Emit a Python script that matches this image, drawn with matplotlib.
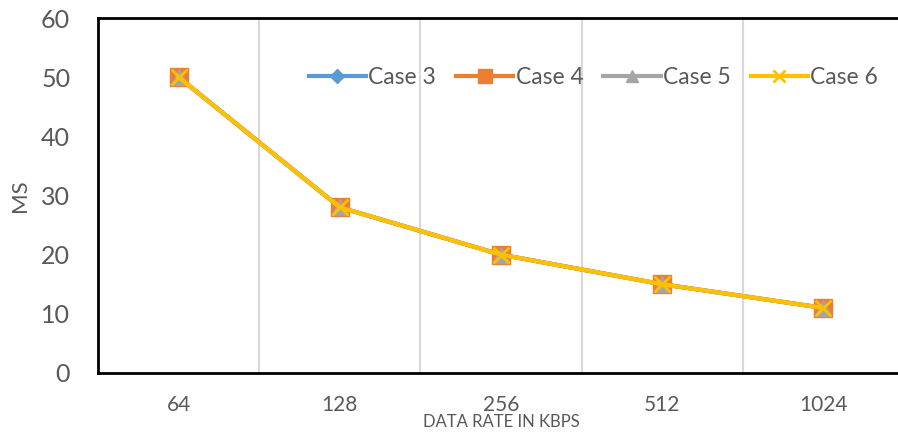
import matplotlib
matplotlib.use('Agg')
import matplotlib.pyplot as plt

rates = ['64', '128', '256', '512', '1024']
case3 = [50, 28, 20, 15, 11]
case4 = [50, 28, 20, 15, 11]
case5 = [50, 28, 20, 15, 11]
case6 = [50, 28, 20, 15, 11]

plt.rcParams['font.family'] = ['Lato', 'DejaVu Sans']

fig = plt.figure(figsize=(8.98, 4.33), dpi=100)
ax = fig.add_axes([98/898, 1 - 373/433, 806/898, 355/433])

x = range(len(rates))
ax.plot(x, case3, color='#5B9BD5', lw=3, marker='D', ms=9, label='Case 3')
ax.plot(x, case4, color='#ED7D31', lw=3, marker='s', ms=13, label='Case 4')
ax.plot(x, case5, color='#A5A5A5', lw=3, marker='^', ms=11, label='Case 5')
ax.plot(x, case6, color='#FFC000', lw=3, marker='x', ms=12, mew=2, label='Case 6')

ax.set_xlim(-0.5, 4.5)
ax.set_ylim(0, 60)
ax.set_yticks(range(0, 61, 10))
ax.set_xticks(list(x))
ax.set_xticklabels(rates, fontsize=15, color='#595959')
ax.tick_params(axis='y', labelsize=18, colors='#595959', length=0, pad=20)
ax.tick_params(axis='x', length=0, pad=16)

for b in [0.5, 1.5, 2.5, 3.5]:
    ax.axvline(b, color='#D9D9D9', lw=1.5, zorder=0)

for s in ax.spines.values():
    s.set_color('black')
    s.set_linewidth(2)

ax.set_xlabel('DATA RATE IN KBPS', fontsize=12, color='#595959', labelpad=-1)
ax.set_ylabel('MS', fontsize=16, color='#595959', va='center')
ax.yaxis.set_label_coords(-78/806, 0.5)

leg = ax.legend(loc='upper left', bbox_to_anchor=(0.236, 0.92), ncol=4, frameon=False,
                fontsize=16.5, handlelength=2.5, columnspacing=0.87, handletextpad=0.1,
                markerscale=0.75, labelcolor='#595959')

fig.savefig('out.png', dpi=100)
